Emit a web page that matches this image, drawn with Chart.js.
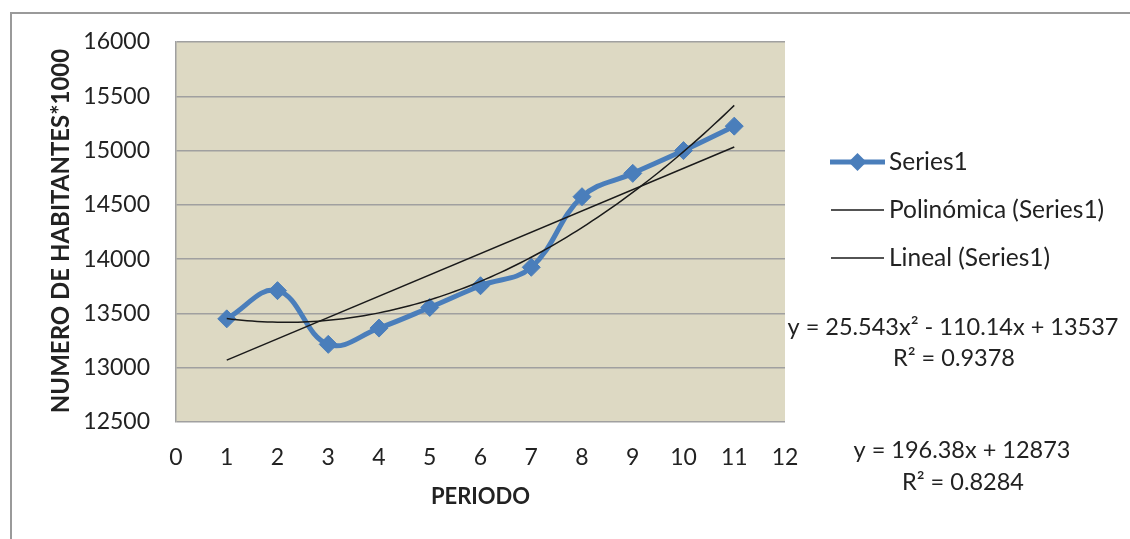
<!DOCTYPE html>
<html>
<head>
<meta charset="utf-8">
<script src="https://cdn.jsdelivr.net/npm/chart.js@4/dist/chart.umd.min.js"></script>
<style>
  body { margin: 0; background: #fff; }
  #wrap { width: 1130px; height: 539px; }
</style>
</head>
<body>
<div id="wrap"><canvas id="myChart" width="1130" height="539"></canvas></div>
<script>
// data
const periods = [1, 2, 3, 4, 5, 6, 7, 8, 9, 10, 11];
const habitantes = [13450, 13710, 13215, 13365, 13555, 13755, 13925, 14575, 14790, 15000, 15225];
const yTicks = [12500, 13000, 13500, 14000, 14500, 15000, 15500, 16000];
const xTicks = [0, 1, 2, 3, 4, 5, 6, 7, 8, 9, 10, 11, 12];

// trendline coefficients as printed on the chart (c0 + c1*x + c2*x^2)
const polyCoef = [13537, -110.14, 25.543];
const linCoef = [12873, 196.38];
const polyLabel = "y = 25.543x² - 110.14x + 13537";
const polyR2 = "R² = 0.9378";
const linLabel = "y = 196.38x + 12873";
const linR2 = "R² = 0.8284";

const legendLabels = ["Series1", "Polinómica (Series1)", "Lineal (Series1)"];

const BLUE = "#4A7EBB";
const TEXT = "#222222";
const GRID = "#A0A0A0";

const evalPoly = (coef, x) => coef.reduce((s, c, i) => s + c * Math.pow(x, i), 0);

const polyPoints = [];
for (let x = periods[0]; x <= periods[periods.length - 1] + 1e-9; x += 0.1) {
  polyPoints.push({ x: x, y: evalPoly(polyCoef, x) });
}
const linPoints = [periods[0], periods[periods.length - 1]].map((x) => ({ x: x, y: evalPoly(linCoef, x) }));

const drawDiamond = (ctx, x, y, r) => {
  ctx.beginPath();
  ctx.moveTo(x, y - r);
  ctx.lineTo(x + r, y);
  ctx.lineTo(x, y + r);
  ctx.lineTo(x - r, y);
  ctx.closePath();
  ctx.fill();
};

const decor = {
  id: "decor",
  beforeDraw(chart) {
    const { ctx, chartArea: a } = chart;
    ctx.save();
    // outer frame
    ctx.strokeStyle = "#9A9A9A";
    ctx.lineWidth = 2;
    ctx.beginPath();
    ctx.moveTo(11, 600);
    ctx.lineTo(11, 13);
    ctx.lineTo(1200, 13);
    ctx.stroke();
    // plot background
    ctx.fillStyle = "#DDD9C3";
    ctx.fillRect(a.left, a.top, a.right - a.left, a.bottom - a.top);
    ctx.restore();
  },
  afterDraw(chart) {
    const { ctx, chartArea: a } = chart;
    ctx.save();
    ctx.fillStyle = TEXT;

    // axis titles
    ctx.font = "bold 22px Lato";
    ctx.textAlign = "center";
    ctx.textBaseline = "middle";
    ctx.fillText("PERIODO", (a.left + a.right) / 2, 497);
    ctx.save();
    ctx.translate(61, 231);
    ctx.rotate(-Math.PI / 2);
    ctx.font = "bold 24px Lato";
    ctx.fillText("NUMERO DE HABITANTES*1000", 0, 0);
    ctx.restore();

    // legend
    const lx0 = 830, lx1 = 885, tx = 889;
    const ly = [162, 210, 258];
    ctx.strokeStyle = BLUE;
    ctx.lineWidth = 5;
    ctx.beginPath();
    ctx.moveTo(lx0, ly[0]);
    ctx.lineTo(lx1, ly[0]);
    ctx.stroke();
    ctx.fillStyle = BLUE;
    drawDiamond(ctx, (lx0 + lx1) / 2, ly[0], 9);
    ctx.strokeStyle = "#1A1A1A";
    ctx.lineWidth = 1.5;
    [ly[1], ly[2]].forEach((y) => {
      ctx.beginPath();
      ctx.moveTo(lx0 + 1, y);
      ctx.lineTo(lx1 - 1, y);
      ctx.stroke();
    });
    ctx.fillStyle = TEXT;
    ctx.font = "24.5px Lato";
    ctx.textAlign = "left";
    legendLabels.forEach((t, i) => ctx.fillText(t, tx, ly[i]));

    // trendline equations
    ctx.font = "23.5px Lato";
    ctx.textAlign = "center";
    ctx.fillText(polyLabel, 953, 327);
    ctx.fillText(polyR2, 954, 358);
    ctx.fillText(linLabel, 962, 450);
    ctx.fillText(linR2, 963, 482);
    ctx.restore();
  },
};

const config = {
  type: "line",
  data: {
    datasets: [
      {
        label: legendLabels[0],
        data: periods.map((p, i) => ({ x: p, y: habitantes[i] })),
        borderColor: BLUE,
        backgroundColor: BLUE,
        borderWidth: 5,
        tension: 0.4,
        pointStyle: "rectRot",
        pointRadius: 9,
        pointBorderWidth: 1,
        pointBackgroundColor: BLUE,
        pointBorderColor: BLUE,
        order: 2,
      },
      {
        label: legendLabels[1],
        data: polyPoints,
        borderColor: "#1A1A1A",
        borderWidth: 1.5,
        pointRadius: 0,
        tension: 0,
        order: 1,
      },
      {
        label: legendLabels[2],
        data: linPoints,
        borderColor: "#1A1A1A",
        borderWidth: 1.5,
        pointRadius: 0,
        tension: 0,
        order: 0,
      },
    ],
  },
  options: {
    responsive: false,
    animation: false,
    layout: { padding: { left: 10, top: 42, right: 345, bottom: 0 } },
    plugins: {
      legend: { display: false },
      tooltip: { enabled: false },
    },
    scales: {
      x: {
        type: "linear",
        min: xTicks[0],
        max: xTicks[xTicks.length - 1],
        afterBuildTicks: (scale) => {
          scale.ticks = xTicks.map((v) => ({ value: v }));
        },
        afterFit: (scale) => {
          scale.height = 117;
        },
        grid: { display: false, drawTicks: false },
        border: { display: false },
        ticks: {
          color: TEXT,
          font: { family: "Lato", size: 23 },
          padding: 22,
          maxRotation: 0,
          autoSkip: false,
        },
      },
      y: {
        min: yTicks[0],
        max: yTicks[yTicks.length - 1],
        afterBuildTicks: (scale) => {
          scale.ticks = yTicks.map((v) => ({ value: v }));
        },
        afterFit: (scale) => {
          scale.width = 166;
        },
        grid: { color: GRID, lineWidth: 1.5, drawTicks: false },
        border: { display: true, color: GRID, width: 1.5 },
        ticks: {
          color: TEXT,
          font: { family: "Lato", size: 23 },
          padding: 26,
          autoSkip: false,
          callback: (v) => String(v),
        },
      },
    },
  },
  plugins: [decor],
};

new Chart(document.getElementById("myChart"), config);
</script>
</body>
</html>
